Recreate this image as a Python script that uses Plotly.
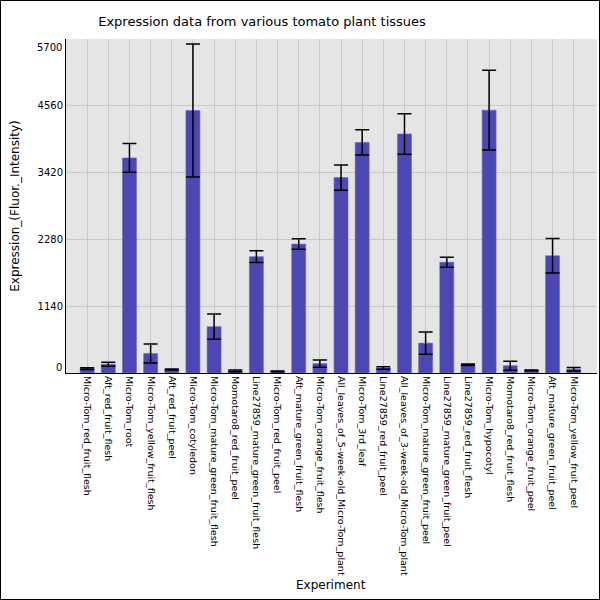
import plotly.graph_objects as go

experiments = [
    "Micro-Tom_red_fruit_flesh",
    "Aft_red_fruit_flesh",
    "Micro-Tom_root",
    "Micro-Tom_yellow_fruit_flesh",
    "Aft_red_fruit_peel",
    "Micro-Tom_cotyledon",
    "Micro-Tom_mature_green_fruit_flesh",
    "Momotaro8_red_fruit_peel",
    "Line27859_mature_green_fruit_flesh",
    "Micro-Tom_red_fruit_peel",
    "Aft_mature_green_fruit_flesh",
    "Micro-Tom_orange_fruit_flesh",
    "All_leaves_of_5-week-old_Micro-Tom_plant",
    "Micro-Tom_3rd_leaf",
    "Line27859_red_fruit_peel",
    "All_leaves_of_3-week-old_Micro-Tom_plant",
    "Micro-Tom_mature_green_fruit_peel",
    "Line27859_mature_green_fruit_peel",
    "Line27859_red_fruit_flesh",
    "Micro-Tom_hypocotyl",
    "Momotaro8_red_fruit_flesh",
    "Micro-Tom_orange_fruit_peel",
    "Aft_mature_green_fruit_peel",
    "Micro-Tom_yellow_fruit_peel",
]

expression = [75, 150, 3670, 333, 60, 4480, 790, 35, 1985, 28, 2200, 160,
              3335, 3935, 85, 4080, 510, 1890, 140, 4485, 125, 45, 2000, 65]
error = [14, 35, 245, 162, 8, 1135, 215, 15, 100, 8, 90, 60,
         215, 215, 20, 345, 188, 85, 12, 680, 77, 8, 295, 30]

y_ticks = [0, 1140, 2280, 3420, 4560, 5700]

fig = go.Figure()
fig.add_trace(go.Bar(
    x=list(range(len(experiments))),
    y=expression,
    width=0.66,
    marker=dict(color="#4b47b3", line=dict(color="#6a67c4", width=0.6)),
    error_y=dict(type="data", array=error, color="black", thickness=1.5, width=7),
))

fig.update_layout(
    width=600, height=600,
    margin=dict(l=66, r=3, t=39, b=227),
    paper_bgcolor="white",
    plot_bgcolor="#e5e5e5",
    font=dict(family="DejaVu Sans", color="black"),
    title=dict(text="Expression data from various tomato plant tissues",
               x=262/600, xanchor="center", y=0.965, yanchor="middle",
               font=dict(size=13)),
    showlegend=False,
    bargap=0.34,
)

fig.update_xaxes(
    tickmode="array", tickvals=list(range(len(experiments))), ticktext=experiments,
    tickangle=90, tickfont=dict(size=9.5),
    range=[-1, 24.1], automargin=False,
    showgrid=True, gridcolor="#c8c8c8", gridwidth=1,
    showline=True, linecolor="black", linewidth=1,
    ticks="",
)
# end labels (0 and top) are nudged inside the plot edge below
inner_text = ["" if v in (y_ticks[0], y_ticks[-1]) else str(v) for v in y_ticks]
fig.update_yaxes(
    tickvals=y_ticks, ticktext=inner_text, range=[0, 5700],
    tickfont=dict(size=10), automargin=False,
    showgrid=True, gridcolor="#c8c8c8", gridwidth=1,
    showline=True, linecolor="black", linewidth=1,
    zeroline=False, ticks="",
    title=dict(text="Expression_(Fluor._Intensity)", font=dict(size=12)),
)
for v, shift in ((y_ticks[0], 6), (y_ticks[-1], -8)):
    fig.add_annotation(text=str(v), xref="paper", yref="y", x=0, y=v,
                       xanchor="right", yanchor="middle", xshift=-2, yshift=shift,
                       showarrow=False, font=dict(size=10))

pw, ph = 600 - 66 - 3, 600 - 39 - 227

# x-axis title sits in the label band, like the original
fig.add_annotation(text="Experiment", xref="paper", yref="paper",
                   x=(331 - 66) / pw, y=-(585 - 373) / ph,
                   showarrow=False, font=dict(size=12), yanchor="middle")

# thin black frame around the whole figure
fig.add_shape(type="rect", xref="paper", yref="paper",
              x0=-65.5/pw, x1=1 + 2.5/pw, y0=-226.5/ph, y1=1 + 38.5/ph,
              line=dict(color="black", width=1), layer="above")

fig.write_html("out.html", config={"displayModeBar": False},
               post_script="document.body.style.margin='0';document.body.style.overflow='hidden';")
